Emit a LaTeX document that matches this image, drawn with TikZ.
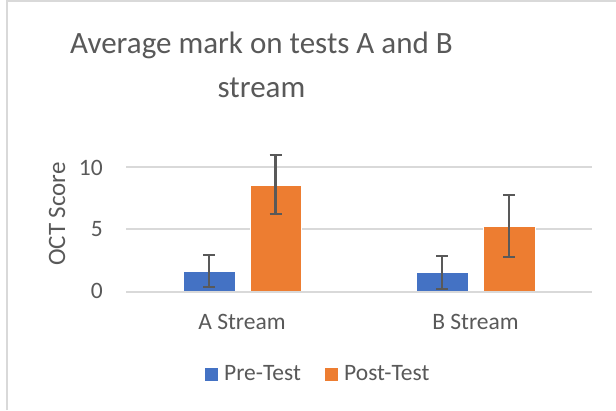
\documentclass[tikz,border=0pt]{standalone}
\usepackage{fontspec}
\setmainfont{Carlito}
\definecolor{txt}{HTML}{595959}
\definecolor{gridc}{HTML}{D9D9D9}
\definecolor{pre}{HTML}{4472C4}
\definecolor{post}{HTML}{ED7D31}
\begin{document}
\begin{tikzpicture}[x=1pt,y=-1pt,
  lbl/.style={text=txt,inner sep=0pt,font=\fontsize{23.5}{28}\selectfont},
  ttl/.style={text=txt,inner sep=0pt,font=\fontsize{31}{37}\selectfont},
  gridline/.style={draw=gridc,line width=1.6pt},
  errbar/.style={draw=txt,line width=2.2pt},
  barpre/.style={fill=pre,draw=white,line width=0.6pt},
  barpost/.style={fill=post,draw=white,line width=0.6pt}]
\useasboundingbox (0,0) rectangle (616,410);
\fill[white] (0,0) rectangle (616,410);
\draw[draw=gridc,line width=1.6pt] (7,410) -- (7,1) -- (616,1);
% gridlines
\foreach \yy in {166.7,229.2} \draw[gridline] (126,\yy) -- (592,\yy);
% bars
\path[barpre] (183,291.7) rectangle (235,271);
\path[barpost] (250,291.7) rectangle (301,185);
\path[barpre] (416,291.7) rectangle (468,272.3);
\path[barpost] (483,291.7) rectangle (535,226);
\draw[gridline] (126,291.7) -- (592,291.7);
% error bars
\foreach \xx/\ta/\tb in {209/255/286.7, 275.5/155/214, 442/255.7/289, 509/195/256.7}{
  \draw[errbar] (\xx,\ta) -- (\xx,\tb);
  \draw[errbar] (\xx-6,\ta) -- (\xx+6,\ta);
  \draw[errbar] (\xx-6,\tb) -- (\xx+6,\tb);
}
% title
\node[ttl,anchor=base west] (t1) at (70,53.3) {Average mark on tests A and B};
\node[ttl,anchor=base] (t2) at (261.5,97) {stream};
% ticks
\node[lbl,anchor=base east] (y10) at (103,175) {10};
\node[lbl,anchor=base east] (y5) at (103,236.7) {5};
\node[lbl,anchor=base east] (y0) at (103,298.3) {0};
\node[lbl,rotate=90,anchor=center,font=\fontsize{25}{30}\selectfont] (ax) at (57,214) {OCT Score};
% categories
\node[lbl,anchor=base] (ca) at (242,329) {A Stream};
\node[lbl,anchor=base] (cb) at (475.5,329) {B Stream};
% legend
\fill[pre] (205,368) rectangle (217.7,380.7);
\node[lbl,anchor=base west] (lp) at (224,380.7) {Pre-Test};
\fill[post] (325,368) rectangle (337.7,380.7);
\node[lbl,anchor=base west] (lq) at (344,380.7) {Post-Test};
\end{tikzpicture}
\end{document}
